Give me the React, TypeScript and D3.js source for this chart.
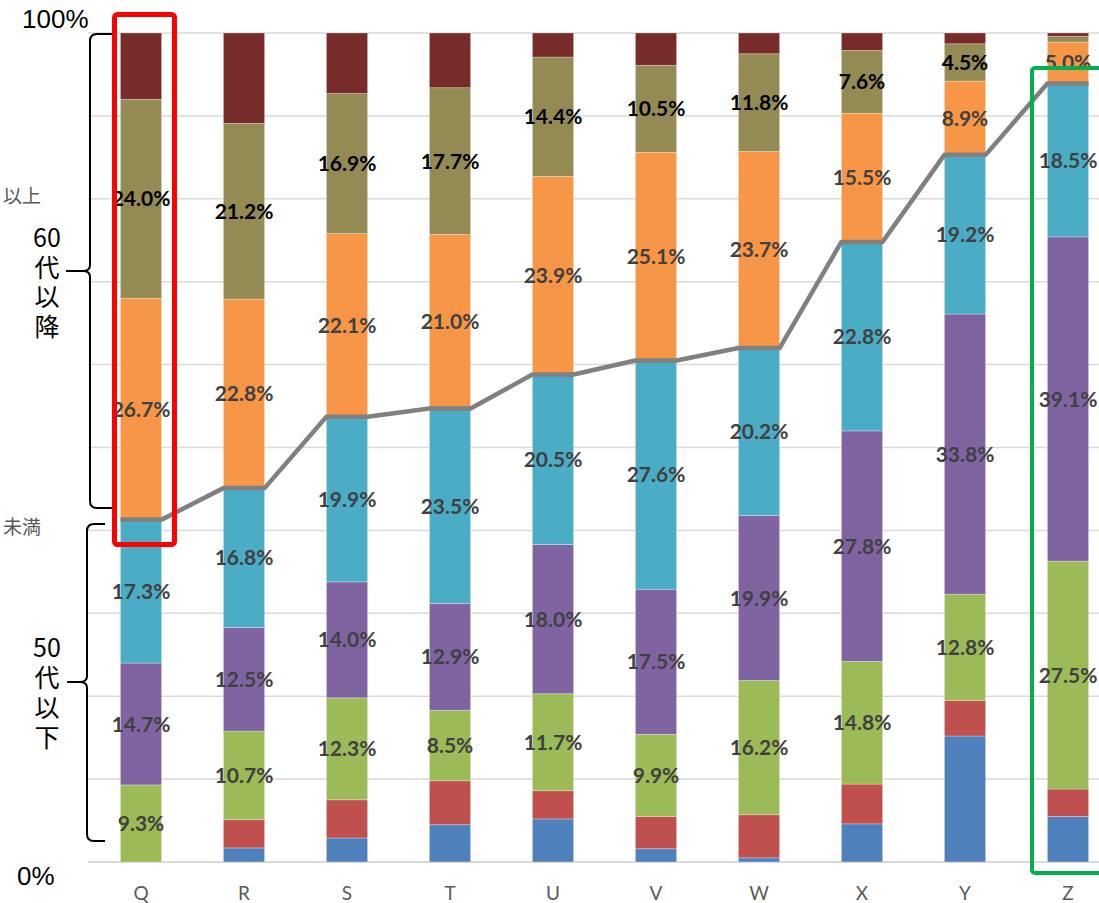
import React from "react";
import * as d3 from "d3";

const categories = ["Q", "R", "S", "T", "U", "V", "W", "X", "Y", "Z"];
const seriesNames = ["blue", "red", "green", "purple", "teal", "orange", "olive", "darkred"];
const blueVals = [0, 1.7, 2.9, 4.5, 5.2, 1.6, 0.5, 4.6, 15.2, 5.5];
const redVals = [0, 3.4, 4.6, 5.3, 3.4, 3.9, 5.2, 4.8, 4.3, 3.3];
const greenVals = [9.3, 10.7, 12.3, 8.5, 11.7, 9.9, 16.2, 14.8, 12.8, 27.5];
const purpleVals = [14.7, 12.5, 14.0, 12.9, 18.0, 17.5, 19.9, 27.8, 33.8, 39.1];
const tealVals = [17.3, 16.8, 19.9, 23.5, 20.5, 27.6, 20.2, 22.8, 19.2, 18.5];
const orangeVals = [26.7, 22.8, 22.1, 21.0, 23.9, 25.1, 23.7, 15.5, 8.9, 5.0];
const oliveVals = [24.0, 21.2, 16.9, 17.7, 14.4, 10.5, 11.8, 7.6, 4.5, 0.7];
const darkredVals = [8.0, 10.9, 7.3, 6.6, 2.9, 3.9, 2.5, 2.1, 1.3, 0.4];
const yTicks = [0, 10, 20, 30, 40, 50, 60, 70, 80, 90, 100];
const upperGroupLines = ["60", "代", "以", "降"];
const lowerGroupLines = ["50", "代", "以", "下"];

const colors: Record<string, string> = {
  blue: "#4f81bd",
  red: "#c0504d",
  green: "#9bbb59",
  purple: "#8064a2",
  teal: "#4bacc6",
  orange: "#f79646",
  olive: "#948a54",
  darkred: "#772c2a",
};
const labelled: Record<string, boolean> = {
  green: true, purple: true, teal: true, orange: true, olive: true,
};

export default function App() {
  const W = 1099, H = 903;
  const x = d3.scaleBand<string>().domain(categories).range([89.5, 1119.5]).paddingInner(0.6).paddingOuter(0.3);
  const y = d3.scaleLinear().domain([0, 100]).range([862, 33]);

  const rows = categories.map((c, i) => ({
    cat: c,
    blue: blueVals[i], red: redVals[i], green: greenVals[i], purple: purpleVals[i],
    teal: tealVals[i], orange: orangeVals[i], olive: oliveVals[i], darkred: darkredVals[i],
  }));
  const stack = d3.stack<any>().keys(seriesNames)(rows);
  const tealLayer = stack[seriesNames.indexOf("teal")];
  const bw = x.bandwidth();

  const linePts: [number, number][] = [];
  tealLayer.forEach((d: any) => {
    const x0 = x(d.data.cat)!;
    linePts.push([x0, y(d[1])]);
    linePts.push([x0 + bw, y(d[1])]);
  });
  const lineGen = d3.line();

  const labelFont = "Lato, 'Noto Sans', sans-serif";
  const jp = "'Noto Sans CJK JP', 'Noto Sans', sans-serif";
  const pctFont = "'Liberation Sans', Arial, sans-serif";

  return (
    <div style={{ position: "absolute", left: 0, top: 0 }}>
      <svg width={W} height={H} style={{ display: "block", background: "#fff" }}>
        {yTicks.map((t) => (
          <line key={t} x1={88} x2={W} y1={y(t)} y2={y(t)} stroke="#d9d9d9" strokeWidth={t === 0 ? 2 : 1.5} />
        ))}
        {stack.map((layer: any) => (
          <g key={layer.key}>
            {layer.map((d: any, i: number) =>
              d[1] - d[0] > 0 ? (
                <rect
                  key={i}
                  x={x(d.data.cat)}
                  y={y(d[1])}
                  width={bw}
                  height={y(d[0]) - y(d[1])}
                  fill={colors[layer.key]}
                  stroke="#ffffff"
                  strokeOpacity={0.35}
                  strokeWidth={0.8}
                />
              ) : null
            )}
          </g>
        ))}
        <path d={lineGen(linePts) || ""} fill="none" stroke="#808080" strokeWidth={4.5} strokeLinejoin="round" />
        {stack.map((layer: any) =>
          labelled[layer.key]
            ? layer.map((d: any, i: number) => {
                const v = d[1] - d[0];
                if (v < 2) return null;
                return (
                  <text
                    key={layer.key + i}
                    x={x(d.data.cat)! + bw / 2}
                    y={(y(d[0]) + y(d[1])) / 2}
                    dy="0.36em"
                    textAnchor="middle"
                    fontFamily={labelFont}
                    fontWeight="bold"
                    fontSize={21}
                    fill={layer.key === "olive" ? "#000000" : "#404040"}
                  >
                    {v.toFixed(1) + "%"}
                  </text>
                );
              })
            : null
        )}
        {categories.map((c) => (
          <text key={c} x={x(c)! + bw / 2} y={900} textAnchor="middle" fontFamily={labelFont} fontSize={19} fill="#595959">
            {c}
          </text>
        ))}
        {/* left annotations */}
        <text x={22} y={28} fontFamily={pctFont} fontSize={26} fill="#000">100%</text>
        <text x={17} y={885} fontFamily={pctFont} fontSize={26} fill="#000">0%</text>
        <text x={3} y={203} fontFamily={jp} fontSize={19} fill="#595959">以上</text>
        <text x={3} y={534} fontFamily={jp} fontSize={19} fill="#595959">未満</text>
        <text fontFamily={jp} fontSize={25} fill="#000" textAnchor="middle">
          {upperGroupLines.map((s, i) => (
            <tspan key={"a" + i} x={47} y={247 + i * 29.7}>{s}</tspan>
          ))}
        </text>
        <text fontFamily={jp} fontSize={25} fill="#000" textAnchor="middle">
          {lowerGroupLines.map((s, i) => (
            <tspan key={"b" + i} x={47} y={657 + i * 30}>{s}</tspan>
          ))}
        </text>
        <path
          d="M 113 34 L 97 34 Q 90 34 90 41 L 90 265 Q 90 271 83 271 L 66 271 M 83 271 Q 90 271 90 277 L 90 501 Q 90 508 97 508 L 113 508"
          fill="none" stroke="#000" strokeWidth={2}
        />
        <path
          d="M 105 524 L 94 524 Q 87 524 87 531 L 87 676 Q 87 682 80 682 L 67 682 M 80 682 Q 87 682 87 688 L 87 834 Q 87 841 94 841 L 105 841"
          fill="none" stroke="#000" strokeWidth={2}
        />
        <rect x={114.5} y={14.5} width={60} height={530} rx={3} fill="none" stroke="#ff0000" strokeWidth={5} />
        <rect x={1032} y={68} width={80} height={805} rx={3} fill="none" stroke="#00b050" strokeWidth={4} />
      </svg>
    </div>
  );
}
